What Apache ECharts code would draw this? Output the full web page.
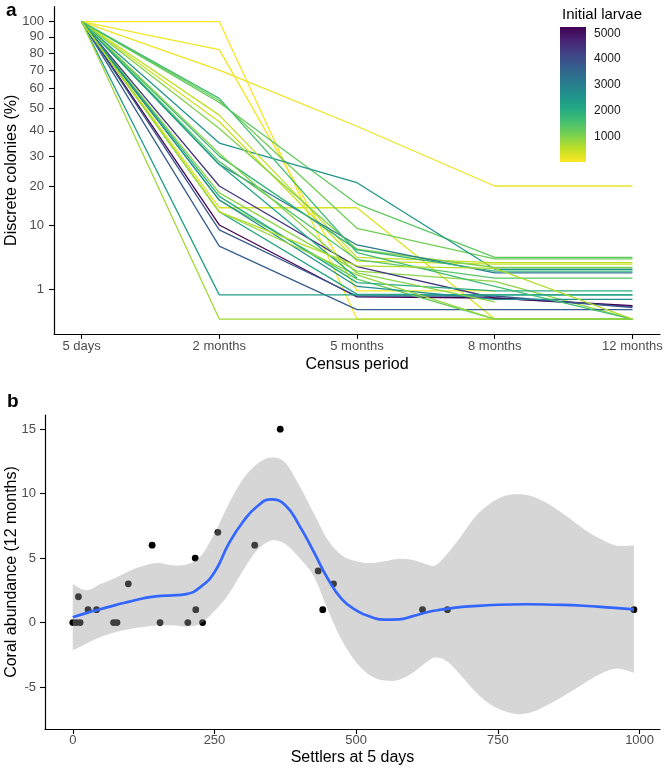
<!DOCTYPE html>
<html><head><meta charset="utf-8">
<script src="https://cdn.jsdelivr.net/npm/echarts@6/dist/echarts.min.js"></script>
<style>html,body{margin:0;padding:0;background:#fff}#c{width:666px;height:770px}</style>
</head><body><div id="c"></div>
<script>
// ---------- Panel a data ----------
const periods = ['5 days', '2 months', '5 months', '8 months', '12 months'];
const yTicksA = [1, 10, 20, 30, 40, 50, 60, 70, 80, 90, 100];
const larvaeTicks = [1000, 2000, 3000, 4000, 5000];
const larvae = [150, 40, 90, 280, 1300, 1150, 2500, 500, 400, 1000, 3100, 1800, 1400, 900, 4400, 5250, 3800, 3700, 2300, 750, 1250, 2000, 2200, 2700, 850, 950, 2100, 1600, 600];
const pct5d  = [100, 100, 100, 100, 100, 100, 100, 100, 100, 100, 100, 100, 100, 100, 100, 100, 100, 100, 100, 100, 100, 100, 100, 100, 100, 100, 100, 100, 100];
const pct2m  = [70, 100, 82, 14, 53, 54, 35, 47, 44, 41, 27, 30, 28, 18, 20, 10, 9, 6, 0.66, 0, 16, 17, 13, 16, 13, 31, 27, 55, 13];
const pct5m  = [42, 0, 0.9, 14, 15, 9.3, 21, 4.3, 3.8, 5.5, 6.2, 5.4, 4.0, 2.6, 3.1, 0.55, 0.6, 0.1, 0.66, 0, 1.8, 1.5, 0.7, 1.2, 2.2, 2.4, 1.9, 5.0, 3.2];
const pct8m  = [20, 0, 0.9, 0, 4.3, 4.1, 2.8, 3.6, 3.4, 3.0, 2.4, 2.6, 1.9, 1.6, 0.5, 0.5, 0.6, 0.1, 0.66, 0, 0, 0.9, 0.66, 0.44, 0, 0.33, null, 1.2, 2.9];
const pct12m = [20, 0, null, 0, 4.3, 4.1, 2.8, 3.6, 3.4, 3.0, 2.4, 2.6, 1.9, 0, 0.18, 0.2, 0.15, 0.1, 0.66, 0, 0, 0.9, 0.66, 0.44, 0, null, null, 0, 0];

// ---------- Panel b data ----------
const settlers  = [0, 6, 13, 10, 27, 42, 72, 78, 98, 140, 154, 203, 216, 217, 229, 256, 321, 366, 433, 441, 460, 617, 661, 990];
const abundance = [0, 0, 0, 2, 1, 1, 0, 0, 3, 6, 0, 0, 5, 1, 0, 7, 6, 15, 4, 1, 3, 1, 1, 1];
const fitX = [0, 25, 50, 75, 100, 125, 150, 175, 200, 225, 250, 275, 300, 325, 350, 375, 400, 425, 450, 475, 500, 525, 550, 575, 600, 625, 650, 675, 700, 750, 800, 850, 900, 950, 990];
const fitY = [0.41, 0.75, 1.05, 1.35, 1.62, 1.88, 2.05, 2.1, 2.2, 2.75, 3.9, 6.1, 7.8, 9.0, 9.55, 9.1, 7.5, 5.5, 3.4, 1.8, 0.95, 0.45, 0.22, 0.25, 0.5, 0.8, 1.0, 1.15, 1.25, 1.38, 1.42, 1.38, 1.3, 1.15, 1.02];
const bandX = [0, 25, 50, 75, 100, 125, 150, 175, 200, 225, 250, 275, 300, 325, 350, 375, 400, 425, 450, 475, 500, 525, 550, 575, 600, 625, 640, 660, 685, 710, 735, 760, 785, 810, 835, 860, 885, 910, 935, 960, 990];
const bandUpper = [2.97, 2.5, 3.0, 3.45, 4.0, 4.4, 4.62, 4.45, 4.5, 5.1, 6.9, 9.2, 11.1, 12.3, 12.8, 12.4, 10.6, 8.5, 6.4, 5.2, 4.75, 4.6, 4.75, 4.95, 4.85, 4.5, 4.45, 5.3, 6.7, 8.2, 9.2, 9.8, 9.95, 9.8, 9.3, 8.6, 7.8, 7.0, 6.4, 5.95, 6.0];
const bandLower = [-2.15, -1.6, -1.1, -0.75, -0.5, -0.35, -0.22, -0.22, -0.3, -0.1, 0.9, 2.2, 4.0, 5.6, 6.35, 6.1, 5.0, 3.6, 1.0, -1.4, -3.1, -4.1, -4.5, -4.45, -3.9, -3.05, -2.72, -3.0, -4.1, -5.35, -6.3, -6.85, -7.12, -6.95, -6.45, -5.85, -5.2, -4.5, -3.9, -3.57, -3.9];
const xTicksB = [0, 250, 500, 750, 1000];
const yTicksB = [-5, 0, 5, 10, 15];

// ---------- colour ----------
const viridisStops = ['#440154', '#482475', '#414487', '#355f8d', '#2a788e', '#21918c', '#22a884', '#44bf70', '#7ad151', '#bddf26', '#fde725'];
function hex2rgb(h) { return [1, 3, 5].map(i => parseInt(h.substr(i, 2), 16)); }
function viridis(t) {
  t = Math.max(0, Math.min(1, t));
  const p = t * (viridisStops.length - 1), i = Math.min(Math.floor(p), viridisStops.length - 2), f = p - i;
  const a = hex2rgb(viridisStops[i]), b = hex2rgb(viridisStops[i + 1]);
  return 'rgb(' + a.map((v, k) => Math.round(v + (b[k] - v) * f)).join(',') + ')';
}
const LMAX = Math.max(...larvae);

const FONT = '"Liberation Sans", Arial, sans-serif';
const axisLine = { show: true, onZero: false, lineStyle: { color: '#000', width: 1.2 } };
const tickStyle = { color: '#000', width: 1.1 };
const plain = v => String(v);

// Catmull-Rom path through pixel points (continuing an existing path)
function splineTo(pts) {
  let d = '';
  for (let i = 0; i < pts.length - 1; i++) {
    const p0 = pts[Math.max(i - 1, 0)], p1 = pts[i], p2 = pts[i + 1], p3 = pts[Math.min(i + 2, pts.length - 1)];
    const c1 = [p1[0] + (p2[0] - p0[0]) / 6, p1[1] + (p2[1] - p0[1]) / 6];
    const c2 = [p2[0] - (p3[0] - p1[0]) / 6, p2[1] - (p3[1] - p1[1]) / 6];
    d += ' C' + c1[0] + ',' + c1[1] + ' ' + c2[0] + ',' + c2[1] + ' ' + p2[0] + ',' + p2[1];
  }
  return d;
}

const series = [];
larvae.forEach((L, i) => {
  const vals = [pct5d[i], pct2m[i], pct5m[i], pct8m[i], pct12m[i]];
  const pts = [];
  vals.forEach((v, k) => { if (v !== null) pts.push([k + 1, Math.sqrt(v)]); });
  series.push({
    type: 'line', xAxisIndex: 0, yAxisIndex: 0, data: pts, symbol: 'none', silent: true,
    lineStyle: { color: viridis(1 - L / LMAX), width: 1.3 }, itemStyle: { color: viridis(1 - L / LMAX) }
  });
});
// colour bar
series.push({
  type: 'bar', xAxisIndex: 2, yAxisIndex: 2, data: [LMAX], barWidth: '100%', silent: true, z: 5,
  itemStyle: { color: new echarts.graphic.LinearGradient(0, 0, 0, 1, viridisStops.map((c, i) => ({ offset: i / (viridisStops.length - 1), color: c }))) }
});
// scatter
series.push({
  type: 'scatter', xAxisIndex: 1, yAxisIndex: 1, symbolSize: 6.8, silent: true, z: 1,
  data: settlers.map((s, i) => [s, abundance[i]]), itemStyle: { color: '#000', opacity: 1 }
});
// confidence band (ribbon)
series.push({
  type: 'custom', xAxisIndex: 1, yAxisIndex: 1, silent: true, z: 3,
  data: bandX.map((x, i) => [x, bandLower[i], bandUpper[i]]),
  encode: { x: 0, y: [1, 2] },
  renderItem: function (params, api) {
    if (params.dataIndex !== 0) return null;
    const up = bandX.map((x, i) => api.coord([x, bandUpper[i]]));
    const lo = bandX.map((x, i) => api.coord([x, bandLower[i]])).reverse();
    const d = 'M' + up[0][0] + ',' + up[0][1] + splineTo(up) + ' L' + lo[0][0] + ',' + lo[0][1] + splineTo(lo) + ' Z';
    return { type: 'path', shape: { pathData: d }, style: { fill: 'rgba(153,153,153,0.4)', stroke: null } };
  }
});
// fitted curve
series.push({
  type: 'line', xAxisIndex: 1, yAxisIndex: 1, smooth: true, symbol: 'none', silent: true, z: 4,
  data: fitX.map((x, i) => [x, fitY[i]]), lineStyle: { color: '#3366FF', width: 2.7 }
});

const sqrtTicks = yTicksA.map(Math.sqrt);
const option = {
  animation: false,
  textStyle: { fontFamily: FONT },
  title: [
    { text: 'a', left: 1, top: -4, textStyle: { fontSize: 19, fontWeight: 'bold', color: '#000', fontFamily: FONT } },
    { text: 'b', left: 2, top: 387, textStyle: { fontSize: 19, fontWeight: 'bold', color: '#000', fontFamily: FONT } },
    { text: 'Initial larvae', left: 557, top: 2, textStyle: { fontSize: 15, fontWeight: 'normal', color: '#000', fontFamily: FONT } }
  ],
  grid: [
    { left: 54, top: 6.7, width: 606, height: 327.2, outerBoundsMode: 'none', containLabel: false },
    { left: 45, top: 415, width: 615, height: 314, outerBoundsMode: 'none', containLabel: false },
    { left: 560, top: 27, width: 26, height: 135, outerBoundsMode: 'none', containLabel: false }
  ],
  xAxis: [
    {
      gridIndex: 0, type: 'value', min: 0.8, max: 5.2, axisLine,
      axisTick: { customValues: [1, 2, 3, 4, 5], length: 5, lineStyle: tickStyle },
      axisLabel: { customValues: [1, 2, 3, 4, 5], formatter: v => periods[Math.round(v) - 1], margin: 6, fontSize: 13, color: '#4d4d4d', fontFamily: FONT },
      splitLine: { show: false },
      name: 'Census period', nameLocation: 'middle', nameGap: 23, nameMoveOverlap: false, nameTextStyle: { fontSize: 16, color: '#000', fontFamily: FONT }
    },
    {
      gridIndex: 1, type: 'value', min: -49, max: 1036, axisLine,
      axisTick: { customValues: xTicksB, length: 5, lineStyle: tickStyle },
      axisLabel: { customValues: xTicksB, formatter: plain, margin: 5, fontSize: 13, color: '#4d4d4d', fontFamily: FONT },
      splitLine: { show: false },
      name: 'Settlers at 5 days', nameLocation: 'middle', nameGap: 21, nameMoveOverlap: false, nameTextStyle: { fontSize: 16, color: '#000', fontFamily: FONT }
    },
    { gridIndex: 2, type: 'category', data: ['bar'], show: false }
  ],
  yAxis: [
    {
      gridIndex: 0, type: 'value', min: -0.5, max: 10.5, axisLine,
      axisTick: { customValues: sqrtTicks, length: 5, lineStyle: tickStyle },
      axisLabel: { customValues: sqrtTicks, formatter: v => String(Math.round(v * v)), margin: 10, fontSize: 13, color: '#4d4d4d', fontFamily: FONT },
      splitLine: { show: false },
      name: 'Discrete colonies (%)', nameLocation: 'middle', nameGap: 34, nameMoveOverlap: false, nameTextStyle: { fontSize: 16, color: '#000', fontFamily: FONT }
    },
    {
      gridIndex: 1, type: 'value', min: -8.26, max: 16.1, axisLine,
      axisTick: { customValues: yTicksB, length: 5, lineStyle: tickStyle },
      axisLabel: { customValues: yTicksB, formatter: plain, margin: 9, fontSize: 13, color: '#4d4d4d', fontFamily: FONT },
      splitLine: { show: false },
      name: 'Coral abundance (12 months)', nameLocation: 'middle', nameGap: 25, nameMoveOverlap: false, nameTextStyle: { fontSize: 16, color: '#000', fontFamily: FONT }
    },
    {
      gridIndex: 2, type: 'value', min: 0, max: LMAX, position: 'right',
      axisLine: { show: false },
      axisTick: { customValues: larvaeTicks, inside: true, length: 5, lineStyle: { color: '#fff', width: 1 } },
      axisLabel: { customValues: larvaeTicks, formatter: plain, margin: 8, fontSize: 12, color: '#1a1a1a', fontFamily: FONT },
      splitLine: { show: false }
    },
    {
      gridIndex: 2, type: 'value', min: 0, max: LMAX, position: 'left',
      axisLine: { show: false },
      axisTick: { customValues: larvaeTicks, inside: true, length: 5, lineStyle: { color: '#fff', width: 1 } },
      axisLabel: { show: false },
      splitLine: { show: false }
    }
  ],
  series
};
const chart = echarts.init(document.getElementById('c'), null, { renderer: 'canvas' });
chart.setOption(option);
</script>
</body></html>
